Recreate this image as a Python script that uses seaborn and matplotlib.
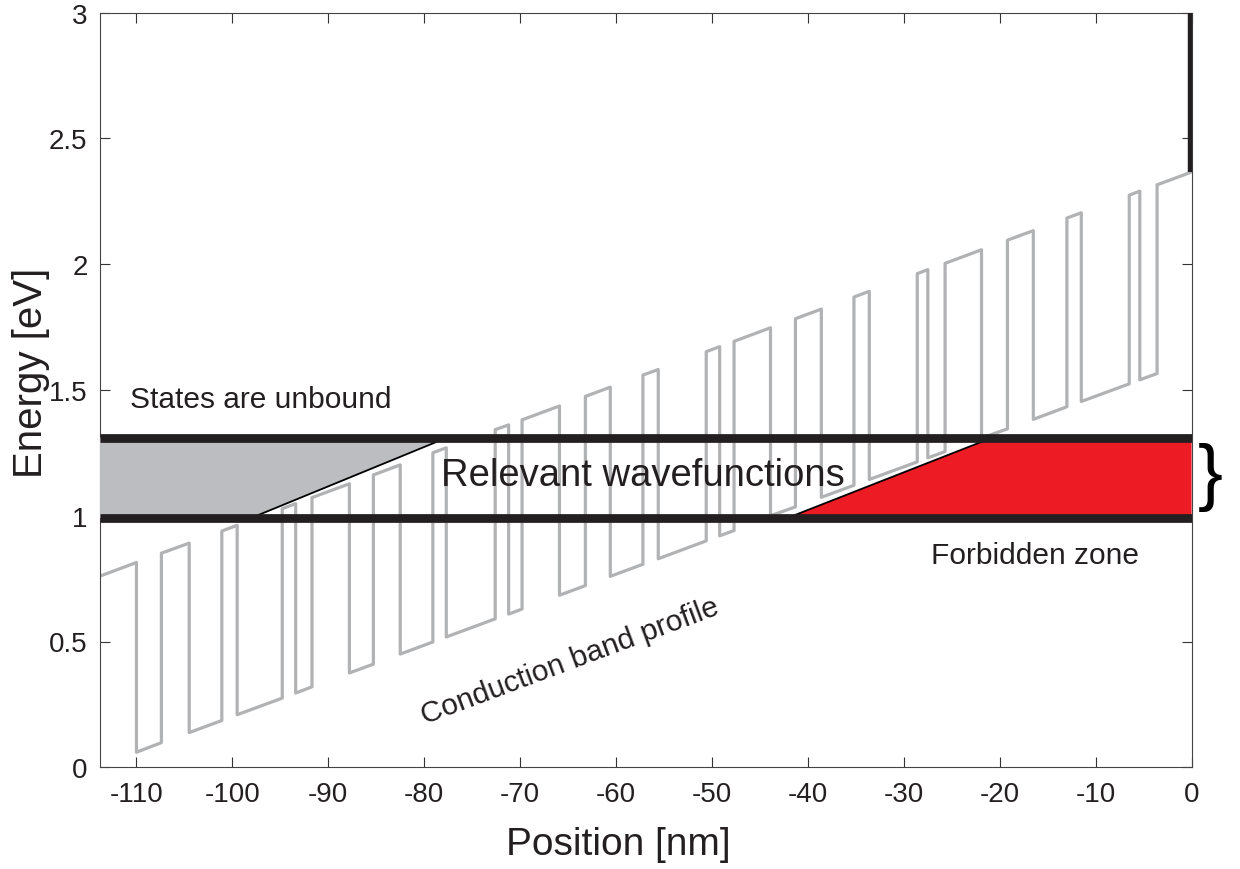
import numpy as np
import pandas as pd
import matplotlib
matplotlib.use("Agg")
import matplotlib.pyplot as plt
import seaborn as sns

# ---- data ----
# positions (nm) where the conduction band switches between barrier and well
layer_edges = [-113.8, -110.0, -107.4, -104.5, -101.1, -99.5, -94.8, -93.4, -91.7, -87.8,
               -85.3, -82.5, -79.1, -77.7, -72.6, -71.2, -69.8, -65.9, -63.2, -60.6,
               -57.2, -55.6, -50.6, -49.2, -47.7, -43.9, -41.3, -38.6, -35.2, -33.6,
               -28.6, -27.5, -25.7, -21.9, -19.2, -16.5, -13.0, -11.5, -6.5, -5.4,
               -3.6, 0.0]
# barrier-top energy (eV) at each edge
barrier_top = [0.760, 0.814, 0.851, 0.891, 0.939, 0.962, 1.028, 1.048, 1.072, 1.127,
               1.162, 1.202, 1.250, 1.270, 1.342, 1.361, 1.381, 1.436, 1.474, 1.511,
               1.559, 1.581, 1.652, 1.672, 1.693, 1.747, 1.783, 1.821, 1.869, 1.892,
               1.962, 1.978, 2.003, 2.057, 2.095, 2.133, 2.183, 2.204, 2.274, 2.290,
               2.315, 2.366]
# well-bottom energy (eV) at each edge
well_bottom = [0.010, 0.060, 0.098, 0.138, 0.186, 0.209, 0.275, 0.295, 0.320, 0.375,
               0.410, 0.450, 0.498, 0.518, 0.590, 0.609, 0.629, 0.684, 0.722, 0.759,
               0.807, 0.829, 0.900, 0.920, 0.941, 1.000, 1.035, 1.073, 1.121, 1.144,
               1.214, 1.230, 1.255, 1.309, 1.345, 1.383, 1.433, 1.454, 1.524, 1.540,
               1.565, 1.616]

window_low = 0.99      # lower bound of relevant energy window (eV)
window_high = 1.31     # upper bound (eV)
unbound_slant = [-98.1, -77.65]     # x at low / high end of grey wedge edge
forbidden_slant = [-42.2, -20.8]    # x at low / high end of red wedge edge
contact_top = 3.0

x_ticks = [-110, -100, -90, -80, -70, -60, -50, -40, -30, -20, -10, 0]
y_ticks = [0, 0.5, 1, 1.5, 2, 2.5, 3]
y_ticklabels = ["0", "0.5", "1", "1.5", "2", "2.5", "3"]

# build the step profile from the layer arrays
prof_x, prof_y = [], []
for k in range(len(layer_edges) - 1):
    lev = barrier_top if k % 2 == 0 else well_bottom
    prof_x += [layer_edges[k], layer_edges[k + 1]]
    prof_y += [lev[k], lev[k + 1]]
profile = pd.DataFrame({"x": prof_x, "y": prof_y})

# ---- style ----
sns.set_theme(style="ticks")
plt.rcParams["font.family"] = ["Liberation Sans", "DejaVu Sans"]
plt.rcParams["axes.unicode_minus"] = False

fig = plt.figure(figsize=(12.4, 8.7), dpi=100)
ax = fig.add_axes([100 / 1240, 1 - 768.3 / 870, (1191.6 - 100) / 1240, (768.3 - 13.5) / 870])

xmin, xmax = layer_edges[0], layer_edges[-1]
ink = "#231f20"

sns.lineplot(data=profile, x="x", y="y", sort=False, estimator=None, ax=ax,
             color="#b1b2b4", lw=2.3, zorder=2)

# grey wedge (states unbound)
ax.fill([xmin, unbound_slant[0], unbound_slant[1], xmin],
        [window_low, window_low, window_high, window_high],
        color="#bcbdc0", lw=0, zorder=3)
ax.plot(unbound_slant, [window_low, window_high], color="black", lw=1.3, zorder=4)
# red wedge (forbidden)
ax.fill([forbidden_slant[0], forbidden_slant[1], xmax, xmax],
        [window_low, window_high, window_high, window_low],
        color="#ed1c24", lw=0, zorder=3)
ax.plot(forbidden_slant, [window_low, window_high], color="black", lw=1.3, zorder=4)

# window lines
for yv in (window_low, window_high):
    ax.plot([xmin, xmax], [yv, yv], color=ink, lw=6.3, zorder=5,
            solid_capstyle="butt")

# contact at right
ax.plot([xmax - 0.15, xmax - 0.15], [barrier_top[-1], contact_top], color=ink,
        lw=3.2, zorder=5, clip_on=False, solid_capstyle="butt")

ax.set_xlim(xmin, xmax)
ax.set_ylim(0, 3)
ax.set_xticks(x_ticks)
ax.set_xticklabels([str(t) for t in x_ticks])
ax.set_yticks(y_ticks)
ax.set_yticklabels(y_ticklabels)
ax.tick_params(direction="in", length=7, width=0.8, color="#333333",
               top=True, right=True, labelsize=20, labelcolor=ink)
ax.tick_params(axis="x", pad=10)
ax.tick_params(axis="y", pad=9)
for s in ax.spines.values():
    s.set_color("#444444")
    s.set_linewidth(0.8)

ax.set_xlabel("Position [nm]", fontsize=28, color=ink)
ax.set_ylabel("Energy [eV]", fontsize=29, color=ink)
ax.xaxis.set_label_coords(0.4745, -0.078)
ax.yaxis.set_label_coords(-0.046, 0.524)

ax.text(-97.0, 1.464, "States are unbound", fontsize=21.5, color=ink,
        ha="center", va="center", zorder=6)
ax.text(-57.2, 1.16, "Relevant wavefunctions", fontsize=27.5, color=ink,
        ha="center", va="center", zorder=6)
ax.text(-16.3, 0.843, "Forbidden zone", fontsize=21.5, color=ink,
        ha="center", va="center", zorder=6)
ax.text(-64.8, 0.425, "Conduction band profile", fontsize=21.5, color=ink,
        ha="center", va="center", rotation=20.5, rotation_mode="anchor", zorder=6)
ax.text(2.0, 1.155, "}", fontsize=54, color="black", ha="center", va="center",
        clip_on=False, zorder=6)

fig.savefig("out.png", dpi=100)
